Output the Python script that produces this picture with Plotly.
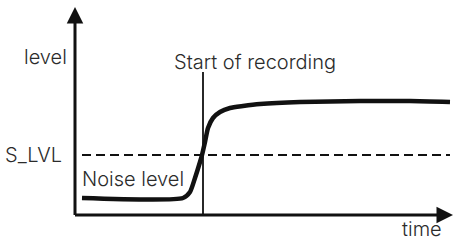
import plotly.graph_objects as go

# Data (time / level in arbitrary schematic units)
time_vals = [7, 108, 115, 120, 125, 127, 130, 133, 138, 145, 155, 168, 185, 225, 285, 335, 375]
level_vals = [17, 17, 23, 37, 53, 60, 73, 87, 97, 103, 107, 109, 111, 113, 114, 114, 113]
s_lvl = 60
record_start = 128
record_top = 143
t_min, t_max = 7, 375
axis_t_end = 378
axis_l_end = 208

FONT = "Inter, Liberation Sans, Arial, sans-serif"
TXT = "#2b2b2b"

fig = go.Figure()
fig.add_trace(go.Scatter(x=time_vals, y=level_vals, mode="lines",
                         line=dict(color="#111111", width=4.5, shape="spline", smoothing=0.6),
                         hoverinfo="skip", showlegend=False))
# threshold dashed line
fig.add_trace(go.Scatter(x=[t_min, t_max], y=[s_lvl, s_lvl], mode="lines",
                         line=dict(color="#111111", width=2, dash="9px,5px"),
                         hoverinfo="skip", showlegend=False))
# start of recording line
fig.add_trace(go.Scatter(x=[record_start, record_start], y=[0, record_top], mode="lines",
                         line=dict(color="#111111", width=1.8),
                         hoverinfo="skip", showlegend=False))

# axes arrows
fig.add_annotation(x=0, y=axis_l_end, ax=0, ay=-1.5, xref="x", yref="y", axref="x", ayref="y",
                   showarrow=True, arrowhead=2, arrowsize=1.1, arrowwidth=3, arrowcolor="#111111", text="")
fig.add_annotation(x=axis_t_end, y=0, ax=-1.5, ay=0, xref="x", yref="y", axref="x", ayref="y",
                   showarrow=True, arrowhead=2, arrowsize=1.1, arrowwidth=3, arrowcolor="#111111", text="")

def label(text, x, y, xanchor="center"):
    fig.add_annotation(x=x, y=y, xref="x", yref="y", text=text, showarrow=False,
                       xanchor=xanchor, yanchor="middle",
                       font=dict(family=FONT, size=20, color=TXT, weight=300))

label("level", -30, 158)
label("Start of recording", 180, 153)
label("S_LVL", -11, s_lvl, xanchor="right")
label("Noise level", 5, 36, xanchor="left")
label("time", 347, -14)

fig.update_layout(width=456, height=241, margin=dict(l=0, r=0, t=0, b=0),
                  paper_bgcolor="white", plot_bgcolor="white",
                  xaxis=dict(range=[-75, 381], visible=False, fixedrange=True),
                  yaxis=dict(range=[-26, 215], visible=False, fixedrange=True))
fig.write_html("out.html", config={"displayModeBar": False},
               post_script="document.body.style.margin='0';document.body.style.padding='0';document.body.style.overflow='hidden';")
